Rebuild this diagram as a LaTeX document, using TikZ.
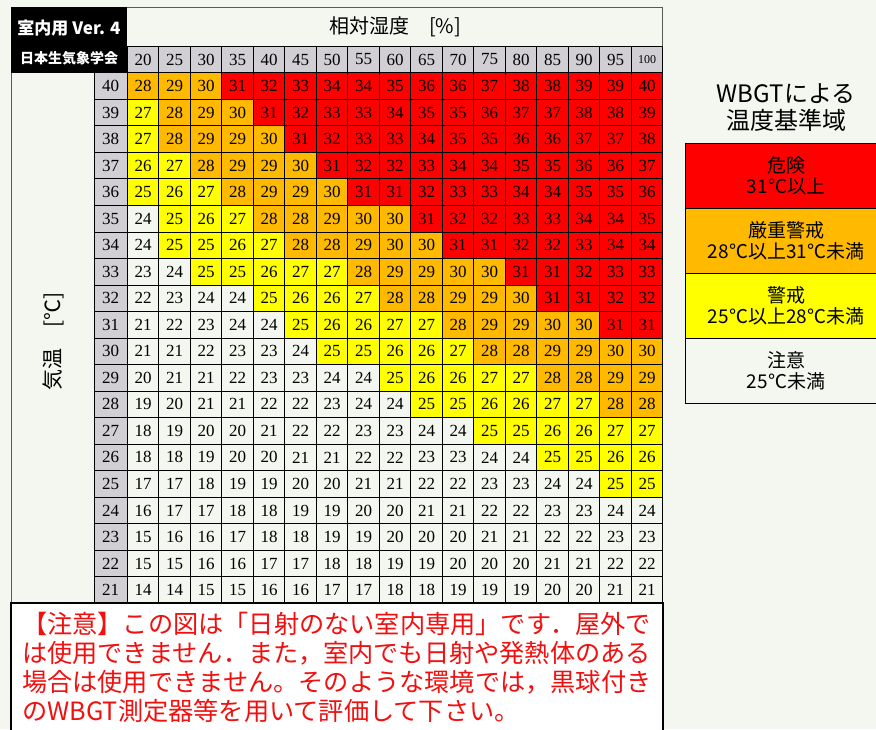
\documentclass[tikz,border=0pt]{standalone}
\usepackage{fontspec}
\setmainfont{Liberation Serif}
\newfontfamily\jp{Noto Sans CJK JP}
\usetikzlibrary{positioning}
\definecolor{bgcol}{HTML}{F3F7F0}
\definecolor{hotcol}{HTML}{FF0000}
\definecolor{warmcol}{HTML}{FFBA00}
\definecolor{mildcol}{HTML}{FFFF00}
\definecolor{headcol}{HTML}{D1CFD3}
\definecolor{framecol}{HTML}{5A5A5A}
\definecolor{notecol}{HTML}{F01010}

\begin{document}
\begin{tikzpicture}[x=1pt,y=-1pt]
    \tikzstyle{cell} = [draw=black, line width=0.8pt, minimum width=31.5pt, minimum height=26.53pt, inner sep=0pt, outer sep=0pt, font=\fontsize{17}{17}\selectfont]
    \tikzstyle{hcell} = [cell, fill=headcol]
    \tikzstyle{lbox} = [draw=black, line width=1pt, minimum width=202pt, minimum height=65pt, inner sep=0pt, outer sep=0pt, align=center, font=\jp\fontsize{19}{21}\selectfont]
    \fill[bgcol] (0,0) rectangle (876,729);
    \useasboundingbox (0,0) rectangle (876,729);

    % frame, title block and humidity header
    \draw[framecol, line width=1pt] (11,7) rectangle (662.75,603);
    \fill[black] (11,7) rectangle (127.25,72.75);
    \node[text=white, font=\jp\bfseries\fontsize{17}{17}\selectfont] (ver) at (69,28) {室内用 Ver. 4};
    \node[text=white, font=\jp\bfseries\fontsize{14}{14}\selectfont] (soc) at (69,58) {日本生気象学会};
    \node[font=\jp\fontsize{20}{20}\selectfont] (rh) at (395,27) {相対湿度　[\%]};
    \node[rotate=90, font=\jp\fontsize{21}{21}\selectfont] (temp) at (53,341) {気温　[℃]};

    \foreach \p [count=\i from 0] in {20,25,...,95}
        \node[hcell] (h\p) at ({143+31.5*\i},59.5) {\p};
    \node[hcell, font=\fontsize{12}{12}\selectfont] (h100) at (647,59.5) {100};

    \foreach \t/\vals in {
        40/{28,29,30,31,32,33,34,34,35,36,36,37,38,38,39,39,40},
        39/{27,28,29,30,31,32,33,33,34,35,35,36,37,37,38,38,39},
        38/{27,28,29,29,30,31,32,33,33,34,35,35,36,36,37,37,38},
        37/{26,27,28,29,29,30,31,32,32,33,34,34,35,35,36,36,37},
        36/{25,26,27,28,29,29,30,31,31,32,33,33,34,34,35,35,36},
        35/{24,25,26,27,28,28,29,30,30,31,32,32,33,33,34,34,35},
        34/{24,25,25,26,27,28,28,29,30,30,31,31,32,32,33,34,34},
        33/{23,24,25,25,26,27,27,28,29,29,30,30,31,31,32,33,33},
        32/{22,23,24,24,25,26,26,27,28,28,29,29,30,31,31,32,32},
        31/{21,22,23,24,24,25,26,26,27,27,28,29,29,30,30,31,31},
        30/{21,21,22,23,23,24,25,25,26,26,27,28,28,29,29,30,30},
        29/{20,21,21,22,23,23,24,24,25,26,26,27,27,28,28,29,29},
        28/{19,20,21,21,22,22,23,24,24,25,25,26,26,27,27,28,28},
        27/{18,19,20,20,21,22,22,23,23,24,24,25,25,26,26,27,27},
        26/{18,18,19,20,20,21,21,22,22,23,23,24,24,25,25,26,26},
        25/{17,17,18,19,19,20,20,21,21,22,22,23,23,24,24,25,25},
        24/{16,17,17,18,18,19,19,20,20,21,21,22,22,23,23,24,24},
        23/{15,16,16,17,18,18,19,19,20,20,20,21,21,22,22,23,23},
        22/{15,15,16,16,17,17,18,18,19,19,20,20,20,21,21,22,22},
        21/{14,14,15,15,16,16,17,17,18,18,19,19,19,20,20,21,21}}
    {
        \node[hcell, minimum width=33pt] (r\t) at (110.6,{86+26.53*(40-\t)}) {\t};
        \foreach \v [count=\i from 0] in \vals {
            \ifnum\v>30\relax \def\cc{hotcol}\else
            \ifnum\v>27\relax \def\cc{warmcol}\else
            \ifnum\v>24\relax \def\cc{mildcol}\else \def\cc{bgcol}\fi\fi\fi
            \node[cell, fill=\cc] (c\t-\i) at ({143+31.5*\i},{86+26.53*(40-\t)}) {\v};
        }
    }

    % caution note
    \draw[black, fill=white, line width=1.5pt] (11,603) rectangle (662.75,745);
    \node[anchor=north west, inner sep=0pt, align=left, text=notecol, font=\jp\fontsize{25.2}{29}\selectfont] (note) at (22,612)
        {【注意】この図は「日射のない室内専用」です．屋外で\\
         は使用できません．また，室内でも日射や発熱体のある\\
         場合は使用できません。そのような環境では，黒球付き\\
         のWBGT測定器等を用いて評価して下さい。};

    % legend
    \node[align=center, font=\jp\fontsize{24}{27}\selectfont] (title) at (786,108) {WBGTによる\\温度基準域};
    \node[lbox, fill=hotcol] (lg1) at (786,175.5) {危険\\31℃以上};
    \node[lbox, fill=warmcol, below=0pt of lg1] (lg2) {厳重警戒\\28℃以上31℃未満};
    \node[lbox, fill=mildcol, below=0pt of lg2] (lg3) {警戒\\25℃以上28℃未満};
    \node[lbox, fill=bgcol, below=0pt of lg3] (lg4) {注意\\25℃未満};
\end{tikzpicture}
\end{document}
